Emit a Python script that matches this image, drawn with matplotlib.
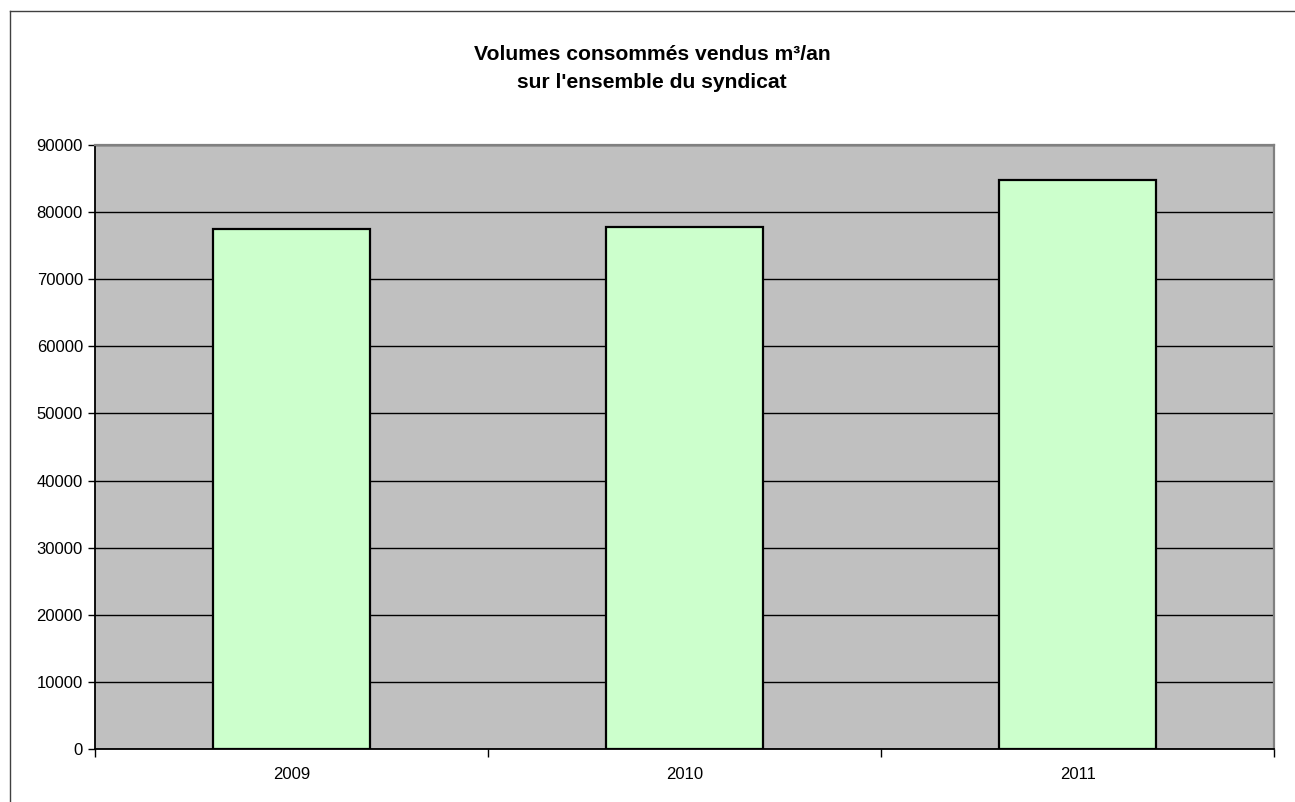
import matplotlib
matplotlib.use("Agg")
import matplotlib.pyplot as plt
from matplotlib.lines import Line2D
import numpy as np

plt.rcParams['font.family'] = ['Liberation Sans', 'DejaVu Sans']

years = ["2009", "2010", "2011"]
volumes = [77500, 77800, 84800]
y_ticks = [0, 10000, 20000, 30000, 40000, 50000, 60000, 70000, 80000, 90000]

W, H = 1295, 802
fig = plt.figure(figsize=(W / 100, H / 100), dpi=100)
fig.patch.set_facecolor("white")

# Chart area frame (left and top edges visible)
fig.add_artist(Line2D([9.5 / W, 9.5 / W], [0, 1 - 10.5 / H], transform=fig.transFigure,
                      color="#404040", lw=1.0))
fig.add_artist(Line2D([9.5 / W, 1], [1 - 10.5 / H, 1 - 10.5 / H], transform=fig.transFigure,
                      color="#404040", lw=1.0))

left, right = 95.5 / W, 1274 / W
bottom, top = 1 - 749 / H, 1 - 145 / H
ax = fig.add_axes([left, bottom, right - left, top - bottom])
ax.set_facecolor("#C0C0C0")

x = np.arange(len(years))
ax.bar(x, volumes, width=0.40, color="#CCFFCC", edgecolor="black", linewidth=1.6, zorder=3)

ax.set_xlim(-0.5, len(years) - 0.5)
ax.set_ylim(0, 90000)
ax.set_yticks(y_ticks)
ax.set_yticklabels([str(v) for v in y_ticks], fontsize=12)
ax.yaxis.grid(True, color="black", linewidth=1.0, zorder=1)
ax.set_axisbelow(True)

ax.set_xticks(x)
ax.set_xticklabels(years, fontsize=12)
ax.set_xticks(np.arange(-0.5, len(years)), minor=True)
ax.tick_params(axis="x", which="major", length=0, pad=13)
ax.tick_params(axis="x", which="minor", length=6, width=1, color="black", direction="out")
ax.tick_params(axis="y", length=5, width=1, color="black", direction="out", pad=4)

for side in ("left", "bottom"):
    ax.spines[side].set_color("black")
    ax.spines[side].set_linewidth(1.3)
for side in ("top", "right"):
    ax.spines[side].set_color("#808080")
    ax.spines[side].set_linewidth(1.6)

fig.text(652 / W, 1 - 55 / H, "Volumes consommés vendus m³/an",
         ha="center", va="center", fontsize=15.2, fontweight="bold")
fig.text(652 / W, 1 - 83 / H, "sur l'ensemble du syndicat",
         ha="center", va="center", fontsize=15.2, fontweight="bold")

fig.savefig("out.png", dpi=100, facecolor="white")
